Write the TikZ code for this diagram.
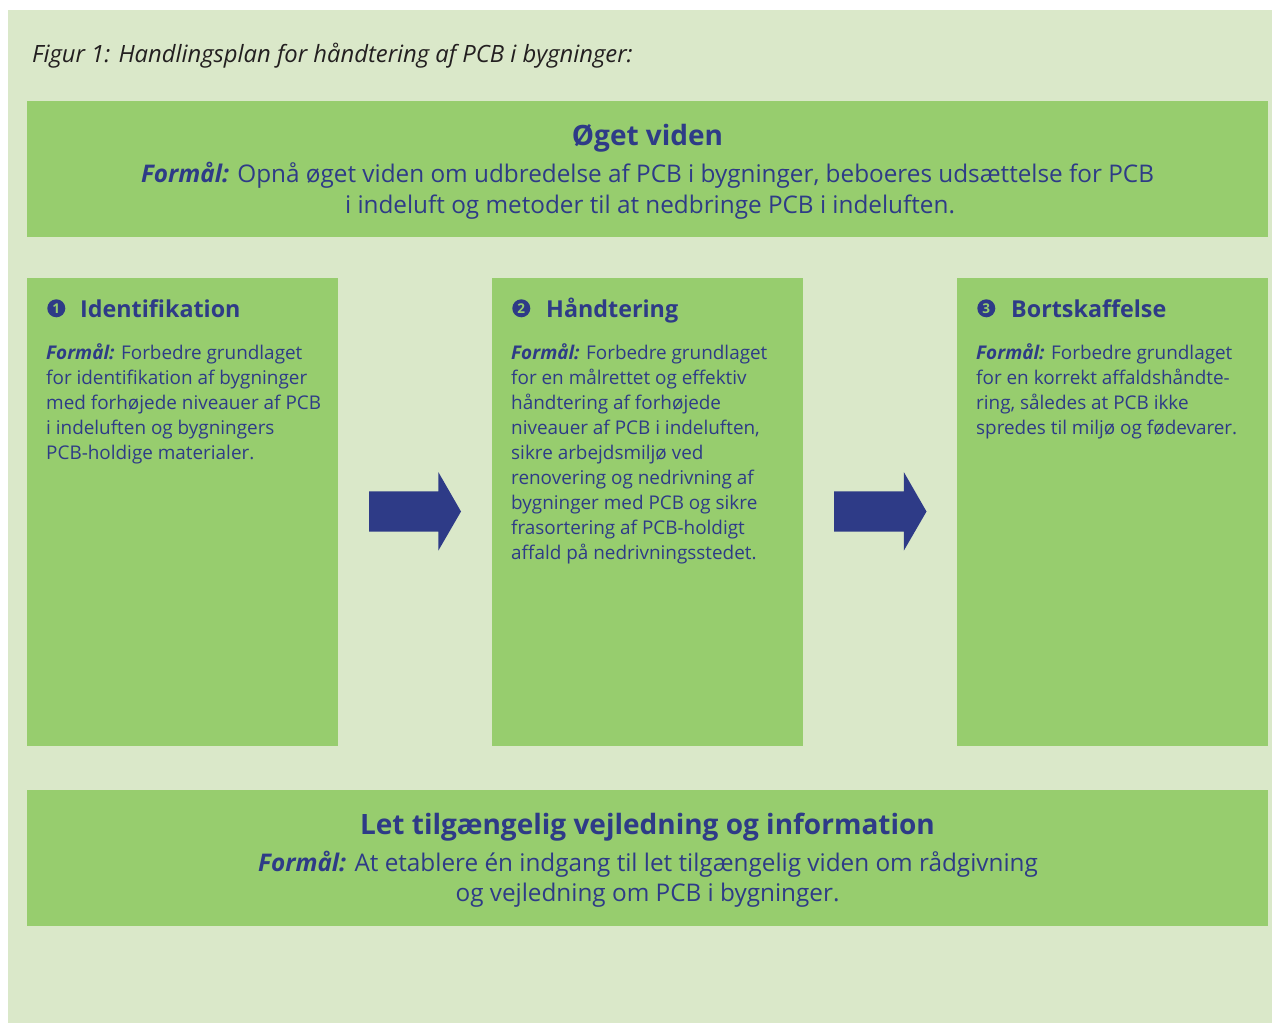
\documentclass[tikz,border=0pt]{standalone}
\usepackage{fontspec}
\setmainfont{Open Sans}
\definecolor{bgl}{HTML}{DAE8C9}
\definecolor{boxg}{HTML}{97CD6E}
\definecolor{navy}{HTML}{2E3B87}
\definecolor{captxt}{HTML}{231F20}
\newcommand{\fm}{\textbf{\textit{Formål:}}}
\begin{document}
\begin{tikzpicture}[x=1pt,y=-1pt,
  greenbox/.style={fill=boxg,draw=none,inner sep=0pt,outer sep=0pt,anchor=north west},
  bigtitle/.style={text=navy,inner sep=0pt,anchor=base,font=\fontsize{28}{34}\selectfont\bfseries},
  bigbody/.style={text=navy,inner sep=0pt,anchor=base,font=\fontsize{24.3}{31}\selectfont},
  colhead/.style={text=navy,inner sep=0pt,anchor=base west,font=\fontsize{23.3}{30}\selectfont\bfseries},
  colbody/.style={text=navy,inner sep=0pt,anchor=base west,align=left,font=\fontsize{18.9}{25.1}\selectfont},
  numdot/.style={circle,fill=navy,text=boxg,inner sep=0pt,minimum size=18pt,font=\fontsize{13.5}{14}\selectfont\bfseries},
  blockarrow/.style={fill=navy,draw=none}
]
\useasboundingbox (0,0) rectangle (1272,1023);
\fill[bgl] (8,10) rectangle (1272,1023);

\node[text=captxt,inner sep=0pt,anchor=base west,font=\fontsize{23.8}{28}\selectfont\itshape] (cap) at (32,62.7) {Figur 1: Handlingsplan for håndtering af PCB i bygninger:};

% top box
\node[greenbox,minimum width=1241,minimum height=136] (top) at (27,101) {};
\node[bigtitle] (toptitle) at (647.5,145) {Øget viden};
\node[bigbody] (topl1) at (647.5,182.7) {\fm{} Opnå øget viden om udbredelse af PCB i bygninger, beboeres udsættelse for PCB};
\node[bigbody] (topl2) at (650,213.5) {i indeluft og metoder til at nedbringe PCB i indeluften.};

% columns
\node[greenbox,minimum width=311,minimum height=468] (c1) at (27,278) {};
\node[greenbox,minimum width=311,minimum height=468] (c2) at (492,278) {};
\node[greenbox,minimum width=311,minimum height=468] (c3) at (957,278) {};

\node[numdot] (n1) at (56.3,308.3) {1};
\node[numdot] (n2) at (521.3,308.3) {2};
\node[numdot] (n3) at (986.3,308.3) {3};
\node[colhead] (h1) at (80,317.3) {Identifikation};
\node[colhead] (h2) at (546,317.3) {Håndtering};
\node[colhead] (h3) at (1011,317.3) {Bortskaffelse};

% multi-line nodes: base anchor = baseline of last line
\node[colbody] (b1) at (46,459.4) {\fm{} Forbedre grundlaget\\for identifikation af bygninger\\med forhøjede niveauer af PCB\\i indeluften og bygningers\\PCB-holdige materialer.};
\node[colbody] (b2) at (511,559.8) {\fm{} Forbedre grundlaget\\for en målrettet og effektiv\\håndtering af forhøjede\\niveauer af PCB i indeluften,\\sikre arbejdsmiljø ved\\renovering og nedrivning af\\bygninger med PCB og sikre\\frasortering af PCB-holdigt\\affald på nedrivningsstedet.};
\node[colbody] (b3) at (976,434.3) {\fm{} Forbedre grundlaget\\for en korrekt affaldshåndte-\\ring, således at PCB ikke\\spredes til miljø og fødevarer.};

% arrows
\fill[blockarrow] (369,491.3) -- (438.3,491.3) -- (438.3,472) -- (461,511.5) -- (438.3,550.7) -- (438.3,531.7) -- (369,531.7) -- cycle;
\fill[blockarrow] (834,491.3) -- (903.8,491.3) -- (903.8,472) -- (926.5,511.5) -- (903.8,550.7) -- (903.8,531.7) -- (834,531.7) -- cycle;

% bottom box
\node[greenbox,minimum width=1241,minimum height=136] (bot) at (27,790) {};
\node[bigtitle] (bottitle) at (647.5,834.3) {Let tilgængelig vejledning og information};
\node[bigbody] (botl1) at (648,871) {\fm{} At etablere én indgang til let tilgængelig viden om rådgivning};
\node[bigbody] (botl2) at (647.5,901.7) {og vejledning om PCB i bygninger.};
\end{tikzpicture}
\end{document}
